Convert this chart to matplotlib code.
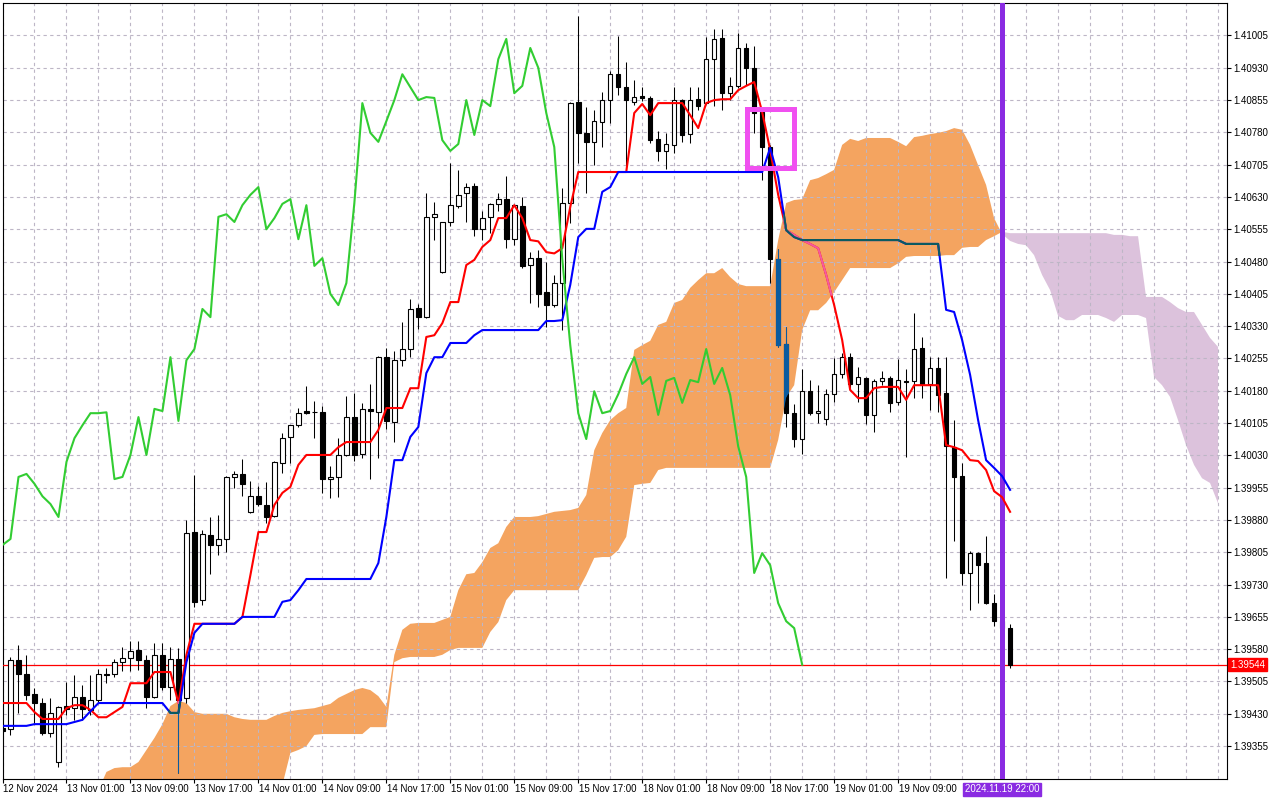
import numpy as np
import matplotlib
matplotlib.use("Agg")
import matplotlib.pyplot as plt
import matplotlib.transforms as mtransforms
from matplotlib.path import Path
from matplotlib.patches import Rectangle

plt.rcParams['font.family'] = ['Liberation Sans', 'DejaVu Sans']

# ---------------- data ----------------
time_labels = ["12 Nov 2024", "13 Nov 01:00", "13 Nov 09:00", "13 Nov 17:00", "14 Nov 01:00",
               "14 Nov 09:00", "14 Nov 17:00", "15 Nov 01:00", "15 Nov 09:00", "15 Nov 17:00",
               "18 Nov 01:00", "18 Nov 09:00", "18 Nov 17:00", "19 Nov 01:00", "19 Nov 09:00"]
label_bars = [0, 8, 16, 24, 32, 40, 48, 56, 64, 72, 80, 88, 96, 104, 112]
current_bar_label = "2024.11.19 22:00"
current_bar = 125
last_price = 1.39544
price_levels = [1.39355, 1.39430, 1.39505, 1.39580, 1.39655, 1.39730, 1.39805, 1.39880,
                1.39955, 1.40030, 1.40105, 1.40180, 1.40255, 1.40330, 1.40405, 1.40480,
                1.40555, 1.40630, 1.40705, 1.40780, 1.40855, 1.40930, 1.41005]

opens = [1.39397, 1.39395, 1.39555, 1.39522, 1.39476, 1.39455, 1.39385, 1.39318, 1.39448, 1.39443,
         1.39469, 1.39439, 1.39462, 1.39522, 1.39522, 1.39550, 1.39560, 1.39578, 1.39555, 1.39469,
         1.39567, 1.39492, 1.39557, 1.39467, 1.39852, 1.39694, 1.39845, 1.39822, 1.39836, 1.39980,
         1.39987, 1.39899, 1.39935, 1.39915, 1.39889, 1.40012, 1.40073, 1.40100, 1.40133, 1.40131,
         1.40131, 1.39975, 1.39980, 1.40031, 1.40119, 1.40033, 1.40138, 1.40131, 1.40258, 1.40107,
         1.40251, 1.40277, 1.40372, 1.40351, 1.40584, 1.40456, 1.40572, 1.40609, 1.40639, 1.40655,
         1.40555, 1.40584, 1.40614, 1.40625, 1.40532, 1.40609, 1.40472, 1.40488, 1.40409, 1.40379,
         1.40430, 1.40616, 1.40850, 1.40779, 1.40758, 1.40804, 1.40855, 1.40915, 1.40885, 1.40850,
         1.40864, 1.40860, 1.40765, 1.40737, 1.40751, 1.40855, 1.40776, 1.40857, 1.40848, 1.40950,
         1.40999, 1.40871, 1.40888, 1.40976, 1.40930, 1.40827, 1.40746, 1.40486, 1.40289, 1.40128,
         1.40068, 1.40179, 1.40128, 1.40114, 1.40172, 1.40219, 1.40258, 1.40196, 1.40210, 1.40124,
         1.40203, 1.40210, 1.40154, 1.40203, 1.40203, 1.40279, 1.40196, 1.40233, 1.40175, 1.40049,
         1.39982, 1.39757, 1.39803, 1.39780, 1.39687, 1.39645, 1.39629]
highs = [1.39402, 1.39562, 1.39590, 1.39567, 1.39490, 1.39467, 1.39467, 1.39448, 1.39504, 1.39520,
         1.39497, 1.39520, 1.39534, 1.39536, 1.39557, 1.39585, 1.39599, 1.39599, 1.39567, 1.39594,
         1.39594, 1.39585, 1.39583, 1.39880, 1.39985, 1.39856, 1.39887, 1.39892, 1.39982, 1.39994,
         1.40022, 1.39970, 1.39959, 1.39968, 1.40016, 1.40082, 1.40101, 1.40140, 1.40191, 1.40156,
         1.40145, 1.40005, 1.40070, 1.40168, 1.40175, 1.40152, 1.40196, 1.40261, 1.40279, 1.40272,
         1.40340, 1.40393, 1.40382, 1.40639, 1.40618, 1.40573, 1.40709, 1.40693, 1.40662, 1.40662,
         1.40597, 1.40616, 1.40639, 1.40679, 1.40612, 1.40630, 1.40502, 1.40507, 1.40479, 1.40449,
         1.40651, 1.40850, 1.41050, 1.40839, 1.40832, 1.40874, 1.40922, 1.41004, 1.40943, 1.40902,
         1.40885, 1.40864, 1.40783, 1.40779, 1.40885, 1.40857, 1.40885, 1.40885, 1.41001, 1.41020,
         1.41020, 1.40909, 1.41011, 1.40988, 1.40981, 1.40839, 1.40751, 1.40509, 1.40328, 1.40149,
         1.40230, 1.40205, 1.40193, 1.40184, 1.40256, 1.40268, 1.40268, 1.40235, 1.40212, 1.40207,
         1.40226, 1.40214, 1.40254, 1.40230, 1.40360, 1.40305, 1.40258, 1.40258, 1.40258, 1.40112,
         1.40012, 1.39808, 1.39805, 1.39843, 1.39708, 1.39666, 1.39638]
lows = [1.39385, 1.39381, 1.39432, 1.39462, 1.39409, 1.39381, 1.39376, 1.39306, 1.39427, 1.39416,
        1.39416, 1.39427, 1.39455, 1.39501, 1.39515, 1.39529, 1.39529, 1.39532, 1.39443, 1.39466,
        1.39485, 1.39462, 1.39293, 1.39455, 1.39678, 1.39683, 1.39755, 1.39799, 1.39806, 1.39954,
        1.39935, 1.39896, 1.39912, 1.39873, 1.39887, 1.39989, 1.40012, 1.40096, 1.40126, 1.40070,
        1.39943, 1.39931, 1.39933, 1.40029, 1.40017, 1.40024, 1.39975, 1.40024, 1.40091, 1.40061,
        1.40238, 1.40258, 1.40323, 1.40349, 1.40530, 1.40454, 1.40563, 1.40604, 1.40572, 1.40539,
        1.40530, 1.40546, 1.40597, 1.40512, 1.40518, 1.40465, 1.40384, 1.40374, 1.40328, 1.40374,
        1.40321, 1.40569, 1.40709, 1.40639, 1.40704, 1.40746, 1.40802, 1.40867, 1.40688, 1.40844,
        1.40853, 1.40755, 1.40714, 1.40695, 1.40732, 1.40758, 1.40755, 1.40832, 1.40846, 1.40841,
        1.40832, 1.40855, 1.40883, 1.40890, 1.40779, 1.40669, 1.40430, 1.40281, 1.40096, 1.40049,
        1.40033, 1.40124, 1.40105, 1.40100, 1.40154, 1.40209, 1.40182, 1.40154, 1.40103, 1.40084,
        1.40193, 1.40131, 1.40147, 1.40026, 1.40163, 1.40163, 1.40135, 1.40131, 1.39745, 1.39831,
        1.39729, 1.39671, 1.39687, 1.39685, 1.39634, 1.39620, 1.39536]
closes = [1.39390, 1.39555, 1.39522, 1.39474, 1.39455, 1.39385, 1.39432, 1.39446, 1.39441, 1.39469,
          1.39441, 1.39462, 1.39522, 1.39521, 1.39550, 1.39560, 1.39576, 1.39555, 1.39469, 1.39567,
          1.39492, 1.39557, 1.39462, 1.39850, 1.39690, 1.39847, 1.39822, 1.39836, 1.39980, 1.39987,
          1.39964, 1.39935, 1.39917, 1.39887, 1.40015, 1.40070, 1.40100, 1.40128, 1.40128, 1.40130,
          1.39975, 1.39980, 1.40031, 1.40119, 1.40031, 1.40138, 1.40133, 1.40258, 1.40110, 1.40251,
          1.40277, 1.40370, 1.40351, 1.40584, 1.40590, 1.40572, 1.40611, 1.40635, 1.40653, 1.40555,
          1.40581, 1.40614, 1.40625, 1.40532, 1.40611, 1.40470, 1.40488, 1.40405, 1.40379, 1.40430,
          1.40616, 1.40848, 1.40779, 1.40758, 1.40806, 1.40855, 1.40915, 1.40885, 1.40855, 1.40862,
          1.40860, 1.40762, 1.40737, 1.40753, 1.40855, 1.40774, 1.40855, 1.40841, 1.40950, 1.40997,
          1.40871, 1.40888, 1.40976, 1.40930, 1.40825, 1.40746, 1.40486, 1.40286, 1.40128, 1.40068,
          1.40179, 1.40128, 1.40133, 1.40172, 1.40219, 1.40258, 1.40196, 1.40212, 1.40124, 1.40203,
          1.40210, 1.40152, 1.40205, 1.40200, 1.40277, 1.40196, 1.40233, 1.40170, 1.40051, 1.39980,
          1.39757, 1.39803, 1.39775, 1.39687, 1.39645, 1.39629, 1.39544]

tenkan = [1.39455, 1.39455, 1.39455, 1.39455, 1.39434, 1.39418, 1.39418, 1.39418, 1.39443, 1.39450,
          1.39450, 1.39439, 1.39422, 1.39422, 1.39434, 1.39446, 1.39501, 1.39501, 1.39501, 1.39527,
          1.39527, 1.39527, 1.39455, 1.39567, 1.39639, 1.39639, 1.39639, 1.39639, 1.39639, 1.39639,
          1.39655, 1.39752, 1.39852, 1.39852, 1.39915, 1.39943, 1.39957, 1.40008, 1.40031, 1.40031,
          1.40031, 1.40031, 1.40049, 1.40061, 1.40061, 1.40061, 1.40061, 1.40089, 1.40140, 1.40140,
          1.40140, 1.40186, 1.40186, 1.40305, 1.40309, 1.40337, 1.40386, 1.40386, 1.40472, 1.40484,
          1.40514, 1.40530, 1.40581, 1.40581, 1.40611, 1.40581, 1.40530, 1.40527, 1.40502, 1.40499,
          1.40511, 1.40607, 1.40688, 1.40688, 1.40688, 1.40688, 1.40688, 1.40688, 1.40688, 1.40825,
          1.40846, 1.40820, 1.40848, 1.40848, 1.40848, 1.40848, 1.40820, 1.40790, 1.40848, 1.40855,
          1.40857, 1.40857, 1.40878, 1.40888, 1.40897, 1.40827, 1.40739, 1.40635, 1.40553, 1.40542,
          1.40530, 1.40521, 1.40511, 1.40449, 1.40379, 1.40298, 1.40182, 1.40163, 1.40163, 1.40186,
          1.40189, 1.40189, 1.40189, 1.40159, 1.40193, 1.40193, 1.40193, 1.40193, 1.40054, 1.40049,
          1.40042, 1.40019, 1.40017, 1.39996, 1.39947, 1.39933, 1.39899]

kijun = ([1.39402] * 4 + [1.39406] * 5 + [1.39411] +
         [1.39416, 1.39436] + [1.39455] * 9 + [1.39432, 1.39432, 1.39550, 1.39618] + [1.39639] * 5 +
         [1.39655] * 5 + [1.39690, 1.39694, 1.39717] + [1.39743] * 9 + [1.39780, 1.39887, 1.40019] +
         [1.40019, 1.40073, 1.40096, 1.40221, 1.40258, 1.40258, 1.40291, 1.40291, 1.40291, 1.40309] +
         [1.40321] * 8 + [1.40342, 1.40342] +
         [1.40344, 1.40426, 1.40537, 1.40556, 1.40556, 1.40642, 1.40653] + [1.40688] * 19 +
         [1.40744, 1.40676, 1.40553, 1.40537] + [1.40530] * 13 + [1.40521] * 5 +
         [1.40368, 1.40363, 1.40298, 1.40217, 1.40112, 1.40019, 1.40001, 1.39982, 1.39950])

cloud_start = 12
span_a = [1.39253, 1.39295, 1.39304, 1.39306, 1.39306, 1.39318, 1.39346, 1.39374,
          1.39406, 1.39448, 1.39460, 1.39455, 1.39434, 1.39430, 1.39430, 1.39430, 1.39430, 1.39422,
          1.39418, 1.39416, 1.39416, 1.39416, 1.39425, 1.39432, 1.39436, 1.39439, 1.39441, 1.39443,
          1.39448, 1.39453, 1.39467, 1.39476, 1.39485, 1.39490, 1.39485, 1.39471, 1.39446, 1.39567,
          1.39625, 1.39639, 1.39641, 1.39641, 1.39641, 1.39648, 1.39655, 1.39717, 1.39754, 1.39757,
          1.39782, 1.39815, 1.39826, 1.39864, 1.39887, 1.39887, 1.39887, 1.39889, 1.39894, 1.39899,
          1.39901, 1.39903, 1.39908, 1.39938, 1.40042, 1.40082, 1.40112, 1.40128, 1.40140, 1.40275,
          1.40286, 1.40296, 1.40333, 1.40340, 1.40384, 1.40391, 1.40419, 1.40437, 1.40453, 1.40453,
          1.40465, 1.40444, 1.40428, 1.40423, 1.40423, 1.40423, 1.40423, 1.40530, 1.40616, 1.40623,
          1.40625, 1.40669, 1.40674, 1.40683, 1.40693, 1.40751, 1.40765, 1.40760, 1.40767, 1.40767,
          1.40767, 1.40767, 1.40758, 1.40748, 1.40769, 1.40772, 1.40776, 1.40779, 1.40783, 1.40790,
          1.40786, 1.40751, 1.40704, 1.40658, 1.40581, 1.40544, 1.40528, 1.40521, 1.40518, 1.40495,
          1.40449, 1.40414, 1.40354, 1.40344, 1.40344, 1.40356, 1.40356, 1.40356, 1.40349, 1.40340,
          1.40356, 1.40356, 1.40356, 1.40349, 1.40212, 1.40193, 1.40166, 1.40112, 1.40054, 1.40008,
          1.39977, 1.39966, 1.39919]
span_b = ([1.39230] * 23 + [1.39265, 1.39339, 1.39346, 1.39355, 1.39381] + [1.39383] * 6 +
          [1.39399] * 3 + [1.39550] +
          [1.39559, 1.39562, 1.39562, 1.39562, 1.39562, 1.39567, 1.39578, 1.39583, 1.39583, 1.39583] +
          [1.39583, 1.39620, 1.39643, 1.39694] + [1.39717] * 9 +
          [1.39752, 1.39792, 1.39794, 1.39794, 1.39810, 1.39841, 1.39961] +
          [1.39964, 1.39966, 1.39996] + [1.40001] * 14 + [1.40066, 1.40165, 1.40193] +
          [1.40321, 1.40367, 1.40367, 1.40384, 1.40409, 1.40437] + [1.40465] * 6 +
          [1.40476, 1.40491, 1.40493, 1.40493, 1.40493, 1.40493, 1.40495, 1.40495] +
          [1.40512, 1.40514, 1.40514, 1.40530, 1.40539, 1.40549] + [1.40546] * 13 +
          [1.40542, 1.40542, 1.40539, 1.40539, 1.40398, 1.40398, 1.40398, 1.40386, 1.40372,
           1.40363, 1.40363, 1.40333, 1.40303, 1.40282])
chikou_shift = 26

box_bars = (93.1, 99.0)
box_prices = (1.40697, 1.40834)

# ---------------- figure ----------------
W, H = 1280, 800
L, R, T, B = 2.5, 1227.0, 2.5, 779.0
fig = plt.figure(figsize=(W / 100, H / 100), dpi=100)
ax = fig.add_axes([L / W, 1 - B / H, (R - L) / W, (B - T) / H])
ax.set_xlim(0.0625, 153.125)
ax.set_ylim(1.392786, 1.410816)

n = min(len(opens), len(highs), len(lows), len(closes))
x = np.arange(n)
o = np.array(opens[:n]); h = np.array(highs[:n]); l = np.array(lows[:n]); c = np.array(closes[:n])

grid_c = '#BDB6C6'
for gx in range(0, 154, 4):
    ax.axvline(gx, color=grid_c, lw=0.8, dashes=(3.0, 3.0), zorder=2.5)
for gy in price_levels:
    ax.axhline(gy, color=grid_c, lw=0.8, dashes=(3.0, 3.0), zorder=2.5)

# cloud
m = min(len(span_a), len(span_b))
sa = np.array(span_a[:m]); sb = np.array(span_b[:m])
cx = np.arange(cloud_start, cloud_start + m)
cloud_col = '#F4A460'
orange = ax.fill_between(cx, sa, sb, where=sa >= sb, interpolate=True,
                         facecolor=cloud_col, edgecolor='none', lw=0, zorder=2)
ax.fill_between(cx, sa, sb, where=sa < sb, interpolate=True,
                facecolor='#DCC2DC', edgecolor='none', lw=0, zorder=2)
clip = Path.make_compound_path(*orange.get_paths())

# current price line
ax.axhline(last_price, color='#FF0000', lw=0.9, zorder=3)

# candles
up = c >= o
body_lo = np.minimum(o, c)
body_h = np.maximum(np.abs(c - o), 0.000004)
ax.vlines(x, l, h, color='black', lw=0.75, zorder=3.5)
ax.bar(x, body_h, bottom=body_lo, width=0.56,
       color=np.where(up, 'white', 'black'), edgecolor='black', lw=0.8, zorder=4)

# inverted look of candles inside the cloud
inv_black = '#0B5B9F'
wov = ax.vlines(x, l, h, color=inv_black, lw=0.75, zorder=4.5)
wov.set_clip_path(clip, ax.transData)
bov = ax.bar(x, body_h, bottom=body_lo, width=0.56,
             color=np.where(up, cloud_col, inv_black), edgecolor=inv_black, lw=0.8, zorder=5)
for p in bov:
    p.set_clip_path(clip, ax.transData)

# current bar vertical line
ax.axvline(current_bar, color='#8A2BE2', lw=3.6, zorder=6)

# indicator lines
nt = min(len(tenkan), n); nk = min(len(kijun), n)
ax.plot(np.arange(nt), tenkan[:nt], color='#FF0000', lw=1.5, zorder=7, solid_joinstyle='round')
ax.plot(np.arange(nk), kijun[:nk], color='#0000FF', lw=1.5, zorder=8, solid_joinstyle='round')
t_ov, = ax.plot(np.arange(nt), tenkan[:nt], color='#F45B9F', lw=1.5, zorder=9)
t_ov.set_clip_path(clip, ax.transData)
k_ov, = ax.plot(np.arange(nk), kijun[:nk], color='#0B5B60', lw=1.5, zorder=10)
k_ov.set_clip_path(clip, ax.transData)
ax.plot(x[:n - chikou_shift], c[chikou_shift:], color='#32CD32', lw=1.5, zorder=11)

# highlight box
ax.add_patch(Rectangle((box_bars[0], box_prices[0]), box_bars[1] - box_bars[0],
                       box_prices[1] - box_prices[0], fill=False,
                       edgecolor='#F050F0', lw=3.6, zorder=12))

# axes styling
for s in ax.spines.values():
    s.set_color('black'); s.set_linewidth(0.8)
ax.yaxis.tick_right()
ax.set_yticks(price_levels)
ax.set_yticklabels([f'{v:.5f}' for v in price_levels])
ax.tick_params(axis='y', length=3, width=0.8, pad=1.5, labelsize=7, colors='black')
ax.set_xticks(label_bars)
ax.set_xticklabels([])
ax.tick_params(axis='x', length=3, width=0.8)

tb = mtransforms.blended_transform_factory(ax.transData, ax.transAxes)
ytxt = -(789.5 - B) / (B - T)
for b, lab in zip(label_bars, time_labels):
    ax.text(b + 0.1, ytxt, lab, transform=tb, ha='left', va='center',
            fontsize=7, color='black', clip_on=False)
ax.text(current_bar, ytxt, current_bar_label, transform=tb, ha='center', va='center',
        fontsize=7, color='white', clip_on=False, zorder=20,
        bbox=dict(boxstyle='square,pad=0.18', fc='#8A2BE2', ec='#8A2BE2'))

tr = mtransforms.blended_transform_factory(ax.transAxes, ax.transData)
ax.text(1 + 3.0 / (R - L), last_price, f'{last_price:.5f}', transform=tr, ha='left', va='center',
        fontsize=7, color='white', clip_on=False, zorder=20,
        bbox=dict(boxstyle='square,pad=0.18', fc='#FF0000', ec='#FF0000'))

fig.savefig('out.png', dpi=100, facecolor='white')
